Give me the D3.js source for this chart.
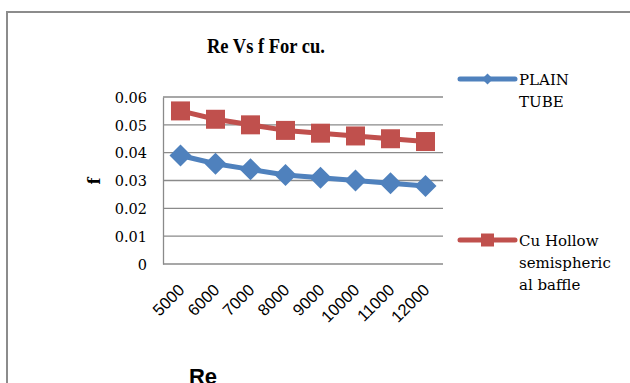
<!DOCTYPE html>
<html>
<head>
<meta charset="utf-8">
<script src="https://cdn.jsdelivr.net/npm/d3@7"></script>
<style>
  body { margin: 0; background: #fff; }
  svg text { font-family: "DejaVu Serif", "Liberation Serif", serif; fill: #000; }
</style>
</head>
<body>
<div id="chart"></div>
<script>
// chart values
const reValues = ["5000", "6000", "7000", "8000", "9000", "10000", "11000", "12000"];
const plainTube = [0.039, 0.036, 0.034, 0.032, 0.031, 0.030, 0.029, 0.028];
const cuHollow = [0.055, 0.052, 0.050, 0.048, 0.047, 0.046, 0.045, 0.044];
const yTicks = [0, 0.01, 0.02, 0.03, 0.04, 0.05, 0.06];

const width = 630, height = 383;
const margin = { top: 97, left: 163, right: 187, bottom: 119 };

const svg = d3.select('#chart').append('svg')
  .attr('width', width)
  .attr('height', height);

// outer chart frame (runs off the right and bottom edge)
svg.append('rect')
  .attr('x', 7).attr('y', 12)
  .attr('width', 640).attr('height', 400)
  .attr('fill', 'none')
  .attr('stroke', '#8c8c8c')
  .attr('stroke-width', 2);

const x = d3.scaleBand()
  .domain(reValues)
  .range([margin.left, width - margin.right]);

const y = d3.scaleLinear()
  .domain([0, 0.06])
  .range([height - margin.bottom, margin.top]);

// gridlines
svg.append('g')
  .selectAll('line')
  .data(yTicks)
  .enter()
  .append('line')
  .attr('x1', margin.left)
  .attr('x2', width - margin.right)
  .attr('y1', d => y(d))
  .attr('y2', d => y(d))
  .attr('stroke', '#8a8a8a')
  .attr('stroke-width', 1.3);

// y axis
const yAxis = d3.axisLeft(y)
  .tickValues(yTicks)
  .tickSize(0)
  .tickPadding(16)
  .tickFormat(d => d === 0 ? '0' : d3.format('.2f')(d));
const gy = svg.append('g')
  .attr('transform', `translate(${margin.left},0)`)
  .call(yAxis);
gy.select('.domain').attr('stroke', '#8a8a8a').attr('stroke-width', 1.3);
gy.selectAll('text')
  .style('font-family', '"DejaVu Serif", serif')
  .style('font-size', '14.5px')
  .attr('dy', '0.36em');

// x axis
const xAxis = d3.axisBottom(x).tickSize(0).tickPadding(0);
const gx = svg.append('g')
  .attr('transform', `translate(0,${height - margin.bottom})`)
  .call(xAxis);
gx.select('.domain').remove();
gx.selectAll('text')
  .style('font-family', '"Liberation Sans", Arial, sans-serif')
  .style('font-size', '16.5px')
  .attr('text-anchor', 'end')
  .attr('dy', null)
  .attr('y', 0)
  .attr('transform', 'translate(5,27) rotate(-45)');

// lines + markers
const line = d3.line()
  .x((d, i) => x(reValues[i]) + x.bandwidth() / 2)
  .y(d => y(d));

const series = [
  { name: ['PLAIN', 'TUBE'], values: plainTube, color: '#4f81bd', marker: 'diamond' },
  { name: ['Cu Hollow', 'semispheric', 'al baffle'], values: cuHollow, color: '#c0504d', marker: 'square' }
];

const markerPath = (type, s) => type === 'diamond'
  ? `M0,${-s}L${s},0L0,${s}L${-s},0Z`
  : `M${-s},${-s}H${s}V${s}H${-s}Z`;

series.forEach(s => {
  svg.append('path')
    .datum(s.values)
    .attr('d', line)
    .attr('fill', 'none')
    .attr('stroke', s.color)
    .attr('stroke-width', 5)
    .attr('stroke-linejoin', 'round');

  svg.append('g')
    .selectAll('path')
    .data(s.values)
    .enter()
    .append('path')
    .attr('transform', (d, i) => `translate(${x(reValues[i]) + x.bandwidth() / 2},${y(d)})`)
    .attr('d', markerPath(s.marker, s.marker === 'diamond' ? 11 : 9.5))
    .attr('fill', s.color);
});

// legend
const legendY = [79, 240];
series.forEach((s, k) => {
  const g = svg.append('g').attr('transform', `translate(460,${legendY[k]})`);
  g.append('line')
    .attr('x1', 0).attr('x2', 55)
    .attr('stroke', s.color)
    .attr('stroke-width', 5)
    .attr('stroke-linecap', 'round');
  g.append('path')
    .attr('transform', 'translate(27.5,0)')
    .attr('d', markerPath(s.marker, s.marker === 'diamond' ? 5.5 : 6.5))
    .attr('fill', s.color);
  g.append('text')
    .attr('x', 59)
    .attr('y', 6)
    .style('font-size', '15px')
    .selectAll('tspan')
    .data(s.name)
    .enter()
    .append('tspan')
    .attr('x', 59)
    .attr('dy', (d, i) => i === 0 ? 0 : 22)
    .text(d => d);
});

// title
svg.append('text')
  .attr('x', 207)
  .attr('y', 53)
  .attr('textLength', 118)
  .attr('lengthAdjust', 'spacingAndGlyphs')
  .style('font-family', '"Liberation Serif", serif')
  .style('font-size', '22px')
  .style('font-weight', 'bold')
  .text('Re Vs f For cu.');

// y axis title
svg.append('text')
  .attr('transform', 'translate(100,181) rotate(-90)')
  .attr('text-anchor', 'middle')
  .style('font-size', '16px')
  .style('font-weight', 'bold')
  .text('f');

// x axis title
svg.append('text')
  .attr('x', 203)
  .attr('y', 384)
  .attr('text-anchor', 'middle')
  .style('font-family', '"Liberation Sans", Arial, sans-serif')
  .style('font-size', '22px')
  .style('font-weight', 'bold')
  .text('Re');
</script>
</body>
</html>
